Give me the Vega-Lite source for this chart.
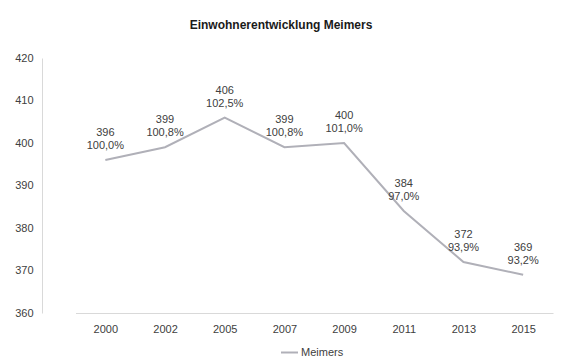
{
  "$schema": "https://vega.github.io/schema/vega-lite/v6.json",
  "autosize": "none",
  "width": 536,
  "height": 255,
  "padding": {"left": 42, "top": 58, "right": 0, "bottom": 45},
  "background": "white",
  "title": {
    "text": "Einwohnerentwicklung Meimers",
    "font": "Liberation Sans",
    "fontSize": 12,
    "fontWeight": "bold",
    "color": "#1a1a1a",
    "anchor": "middle",
    "dx": -29,
    "offset": 11,
    "baseline": "alphabetic"
  },
  "data": {
    "values": [
      {"year": "2000", "value": 396, "label": "396\n100,0%"},
      {"year": "2002", "value": 399, "label": "399\n100,8%"},
      {"year": "2005", "value": 406, "label": "406\n102,5%"},
      {"year": "2007", "value": 399, "label": "399\n100,8%"},
      {"year": "2009", "value": 400, "label": "400\n101,0%"},
      {"year": "2011", "value": 384, "label": "384\n97,0%"},
      {"year": "2013", "value": 372, "label": "372\n93,9%"},
      {"year": "2015", "value": 369, "label": "369\n93,2%"}
    ]
  },
  "encoding": {
    "x": {
      "field": "year",
      "type": "ordinal",
      "scale": {"type": "point", "range": [33.5, 511]},
      "axis": {
        "title": null,
        "labelAngle": 0,
        "ticks": false,
        "domainColor": "#d9d9d9",
        "labelPadding": 10,
        "labelFontSize": 11,
        "labelColor": "#404040",
        "labelFont": "Liberation Sans"
      }
    },
    "y": {
      "field": "value",
      "type": "quantitative",
      "scale": {"domain": [360, 420], "nice": false, "zero": false},
      "axis": {
        "title": null,
        "values": [360, 370, 380, 390, 400, 410, 420],
        "ticks": false,
        "grid": false,
        "domainColor": "#d9d9d9",
        "labelPadding": 9,
        "labelFontSize": 11,
        "labelColor": "#404040",
        "labelFont": "Liberation Sans"
      }
    }
  },
  "layer": [
    {
      "mark": {"type": "line", "strokeWidth": 2},
      "encoding": {
        "color": {
          "datum": "Meimers",
          "scale": {"range": ["#b0b0b8"]},
          "legend": {
            "title": null,
            "orient": "none",
            "legendX": 238,
            "legendY": 285,
            "symbolType": "stroke",
            "symbolSize": 289,
            "symbolStrokeWidth": 2,
            "labelFontSize": 11,
            "labelFont": "Liberation Sans",
            "labelColor": "#404040",
            "labelOffset": 2,
            "padding": 0
          }
        }
      }
    },
    {
      "mark": {
        "type": "text",
        "baseline": "bottom",
        "dy": -22,
        "lineBreak": "\n",
        "lineHeight": 13,
        "fontSize": 11,
        "font": "Liberation Sans",
        "color": "#404040"
      },
      "encoding": {"text": {"field": "label"}}
    }
  ],
  "config": {"view": {"stroke": null}}
}
